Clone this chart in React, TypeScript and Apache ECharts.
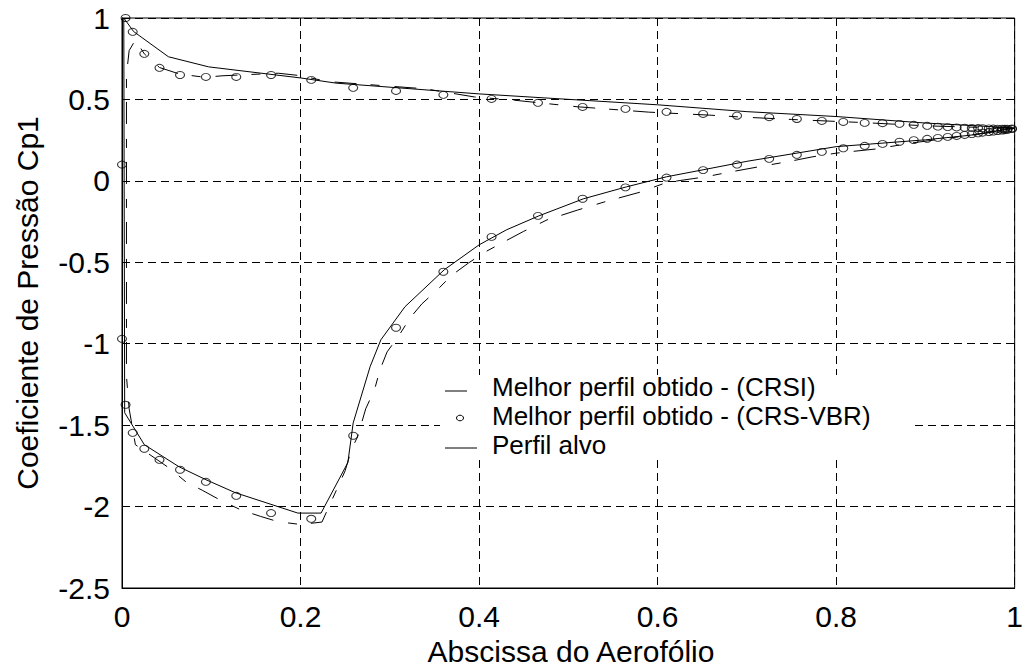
import React, { useEffect, useRef } from "react";
import * as echarts from "echarts";

// Perfil alvo (target profile): upper surface TE -> LE, lower surface LE -> TE
const targetUpper: [number, number][] = [
  [1.0, 0.325], [0.9, 0.355], [0.8, 0.395], [0.7, 0.425], [0.6, 0.467],
  [0.4, 0.534], [0.24, 0.6], [0.2, 0.632], [0.097, 0.7], [0.052, 0.762],
  [0.013, 0.917], [0.002, 1.0],
];
const targetLower: [number, number][] = [
  [0.003, -1.424], [0.025, -1.62], [0.064, -1.756], [0.094, -1.835],
  [0.127, -1.915], [0.197, -2.04], [0.223, -2.04], [0.253, -1.73],
  [0.259, -1.486], [0.278, -1.14], [0.29, -0.976], [0.317, -0.773],
  [0.361, -0.546], [0.4, -0.393], [0.431, -0.3], [0.467, -0.215],
  [0.517, -0.11], [0.565, -0.037], [0.61, 0.025], [0.651, 0.068],
  [0.7, 0.12], [0.8, 0.21], [0.9, 0.252], [0.95, 0.28], [1.0, 0.325],
];

// Melhor perfil obtido - (CRSI)
const crsiUpper: [number, number][] = [
  [1.0, 0.322], [0.9, 0.338], [0.83, 0.358], [0.8, 0.365], [0.75, 0.377],
  [0.69, 0.393], [0.66, 0.403], [0.59, 0.422], [0.51, 0.455], [0.44, 0.495],
  [0.395, 0.515], [0.34, 0.565], [0.23, 0.61], [0.2, 0.646], [0.175, 0.661],
  [0.112, 0.645], [0.093, 0.636], [0.065, 0.655], [0.042, 0.696],
  [0.025, 0.78], [0.015, 0.865], [0.008, 0.8], [0.005, 0.65],
];
const crsiLower: [number, number][] = [
  [0.005, -1.2], [0.008, -1.4], [0.015, -1.62], [0.052, -1.76],
  [0.072, -1.85], [0.09, -1.9], [0.11, -1.96], [0.133, -2.02],
  [0.155, -2.06], [0.175, -2.093], [0.2, -2.11], [0.224, -2.095],
  [0.25, -1.78], [0.257, -1.65], [0.264, -1.57], [0.273, -1.4],
  [0.283, -1.28], [0.289, -1.16], [0.297, -1.05], [0.309, -0.96],
  [0.323, -0.84], [0.336, -0.755], [0.353, -0.67], [0.37, -0.577],
  [0.388, -0.505], [0.407, -0.436], [0.428, -0.374], [0.45, -0.31],
  [0.476, -0.24], [0.51, -0.18], [0.54, -0.13], [0.58, -0.07],
  [0.61, -0.01], [0.654, 0.025], [0.677, 0.05], [0.713, 0.086],
  [0.751, 0.123], [0.773, 0.147], [0.8, 0.17], [0.845, 0.196],
  [0.885, 0.233], [0.93, 0.265], [0.97, 0.295], [1.0, 0.322],
];

// Melhor perfil obtido - (CRS-VBR): panel x positions and Cp on both surfaces
const vbrX = [
  0.004, 0.012, 0.025, 0.042, 0.065, 0.094, 0.128, 0.167, 0.212, 0.259,
  0.307, 0.36, 0.414, 0.466, 0.516, 0.564, 0.61, 0.651, 0.689, 0.725,
  0.756, 0.784, 0.808, 0.832, 0.852, 0.871, 0.887, 0.902, 0.914, 0.925,
  0.935, 0.944, 0.952, 0.959, 0.964, 0.971, 0.976, 0.981, 0.986, 0.989,
  0.992, 0.997,
];
const vbrUpperY = [
  1.0, 0.915, 0.78, 0.694, 0.65, 0.638, 0.638, 0.65, 0.62, 0.571,
  0.552, 0.528, 0.503, 0.479, 0.454, 0.442, 0.424, 0.411, 0.4, 0.391,
  0.38, 0.368, 0.362, 0.356, 0.354, 0.35, 0.344, 0.338, 0.333, 0.33,
  0.328, 0.326, 0.325, 0.324, 0.323, 0.322, 0.321, 0.32, 0.32, 0.32,
  0.32, 0.322,
];
const vbrLowerY = [
  -1.375, -1.547, -1.645, -1.713, -1.774, -1.848, -1.934, -2.04, -2.075, -1.565,
  -0.902, -0.558, -0.344, -0.215, -0.11, -0.04, 0.02, 0.066, 0.1, 0.135,
  0.16, 0.178, 0.2, 0.215, 0.227, 0.24, 0.25, 0.258, 0.264, 0.27,
  0.276, 0.282, 0.287, 0.292, 0.296, 0.3, 0.303, 0.306, 0.309, 0.311,
  0.313, 0.318,
];
const vbrLeadingEdge: [number, number][] = [[0.0, 0.1], [0.0, -0.97]];

const legendLabels = [
  "Melhor perfil obtido - (CRSI)",
  "Melhor perfil obtido - (CRS-VBR)",
  "Perfil alvo",
];
const xTitle = "Abscissa do Aerofólio";
const yTitle = "Coeficiente de Pressão Cp1";

const FONT = "'Liberation Sans', Arial, Helvetica, sans-serif";

export default function App() {
  const ref = useRef<HTMLDivElement>(null);
  useEffect(() => {
    if (!ref.current) return;
    const chart = echarts.init(ref.current, null, { renderer: "svg" });
    const vbrPoints: [number, number][] = [
      ...vbrX.map((x, i) => [x, vbrUpperY[i]] as [number, number]),
      ...vbrLeadingEdge,
      ...vbrX.map((x, i) => [x, vbrLowerY[i]] as [number, number]),
    ];
    const gridLine = { show: true, lineStyle: { color: "#000", width: 1, type: [8, 5] as any } };
    const legendText = (label: string, y: number) => ({
      type: "text", x: 492, y, z: 101,
      style: {
        text: label, fill: "#000", fontSize: 26, fontFamily: FONT,
        textAlign: "left", textVerticalAlign: "middle",
      },
    });
    chart.setOption({
      animation: false,
      backgroundColor: "#fff",
      grid: {
        left: 122, right: 7, top: 18, bottom: 81,
        show: true, borderColor: "#000", borderWidth: 1, backgroundColor: "transparent",
      },
      xAxis: {
        type: "value", min: 0, max: 1, interval: 0.2,
        axisLine: { show: true, onZero: false, lineStyle: { color: "#000", width: 1 } },
        axisTick: { show: false },
        axisLabel: { color: "#000", fontSize: 30, fontFamily: FONT, margin: 13 },
        splitLine: gridLine,
      },
      yAxis: {
        type: "value", min: -2.5, max: 1, interval: 0.5,
        axisLine: { show: true, onZero: false, lineStyle: { color: "#000", width: 1 } },
        axisTick: { show: false },
        axisLabel: { color: "#000", fontSize: 30, fontFamily: FONT, margin: 12 },
        splitLine: gridLine,
      },
      series: [
        {
          name: legendLabels[1], type: "scatter", data: vbrPoints, clip: false,
          symbol: "circle", symbolSize: [9, 7], z: 2,
          itemStyle: { color: "rgba(0,0,0,0)", borderColor: "#000", borderWidth: 1 },
        },
        {
          name: legendLabels[0], type: "line", data: [...crsiUpper, ...crsiLower],
          showSymbol: false, symbol: "none", clip: false, z: 3,
          lineStyle: { color: "#000", width: 1, type: [22, 15, 9, 14] as any },
        },
        {
          name: legendLabels[2], type: "line", data: [...targetUpper, ...targetLower],
          showSymbol: false, symbol: "none", clip: false, z: 4,
          lineStyle: { color: "#000", width: 1, type: "solid" },
        },
      ],
      graphic: [
        {
          type: "text", x: 571, y: 651, z: 100,
          style: { text: xTitle, fill: "#000", font: `30px ${FONT}`, textAlign: "center", textVerticalAlign: "middle" },
        },
        {
          type: "text", x: 27, y: 303, rotation: Math.PI / 2, z: 100,
          style: { text: yTitle, fill: "#000", font: `30px ${FONT}`, textAlign: "center", textVerticalAlign: "middle" },
        },
        {
          type: "group", z: 100,
          children: [
            { type: "rect", shape: { x: 440, y: 375, width: 472, height: 82 }, style: { fill: "#fff" }, z: 100 },
            { type: "line", shape: { x1: 445, y1: 391, x2: 467, y2: 391 }, style: { stroke: "#000", lineWidth: 1 }, z: 101 },
            { type: "ellipse", shape: { cx: 460, cy: 418, rx: 3.5, ry: 2.8 }, style: { stroke: "#000", fill: "none", lineWidth: 1 }, z: 101 },
            { type: "line", shape: { x1: 445, y1: 448, x2: 477, y2: 448 }, style: { stroke: "#000", lineWidth: 1 }, z: 101 },
            legendText(legendLabels[0], 387),
            legendText(legendLabels[1], 416),
            legendText(legendLabels[2], 445),
          ],
        },
      ],
    });
    return () => chart.dispose();
  }, []);
  return (
    <div
      ref={ref}
      style={{ position: "fixed", left: 0, top: 0, width: 1026, height: 669, background: "#fff" }}
    />
  );
}
